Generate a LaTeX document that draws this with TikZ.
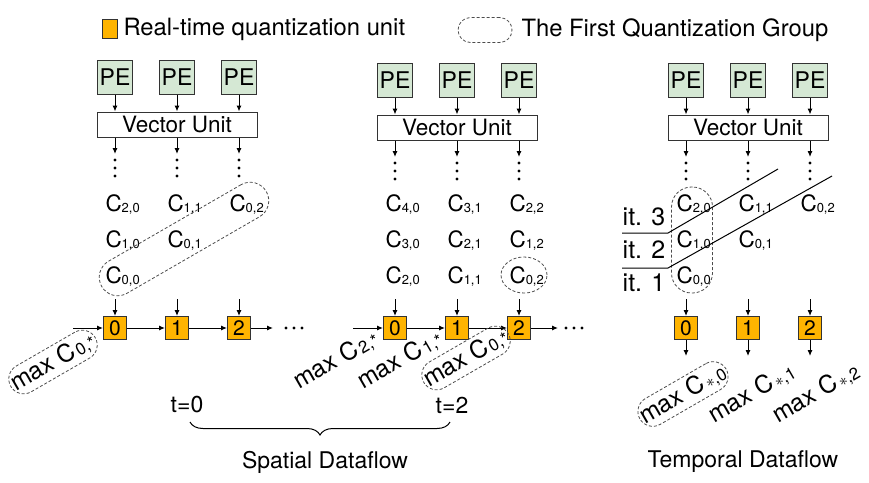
\documentclass[tikz,border=0pt]{standalone}
\usepackage{fontspec}
\setmainfont{TeX Gyre Heros}
\usepackage{xcolor}
\usepackage{tikz}
\usetikzlibrary{shapes.geometric, decorations.pathreplacing, arrows.meta, positioning}
\definecolor{peGreen}{HTML}{D5E8D4}
\definecolor{quOrange}{HTML}{FFB400}
\newcommand{\csub}[1]{\raisebox{-1.5pt}{\fontsize{13}{13}\selectfont #1}}
\newcommand{\msub}[1]{\kern2pt\raisebox{-1pt}{\fontsize{17}{17}\selectfont #1}}

\begin{document}
\begin{tikzpicture}[x=1pt, y=-1pt, >={Latex[length=6pt, width=5pt]}, line width=1pt,
    pe/.style={draw=black!80, fill=peGreen, minimum width=35, minimum height=34, inner sep=0pt, font=\fontsize{23}{23}\selectfont},
    vu/.style={draw=black!80, fill=white, minimum width=160, minimum height=25, inner sep=0pt, font=\fontsize{22.5}{22.5}\selectfont},
    qu/.style={draw=black!80, fill=quOrange, minimum width=23, minimum height=23, inner sep=0pt, font=\fontsize{21}{21}\selectfont},
    cval/.style={anchor=base west, inner sep=0pt, font=\fontsize{22.5}{22.5}\selectfont},
    maxval/.style={rotate=30, inner sep=2pt, font=\fontsize{24.5}{24.5}\selectfont},
    group/.style={draw=black!70, dash pattern=on 3pt off 2pt, line width=0.8pt, inner sep=0pt},
    maxgrp/.style={group, inner xsep=2pt, inner ysep=4pt, rounded corners=15pt},
    lbl/.style={anchor=west, inner sep=0pt, font=\fontsize{23.8}{23.8}\selectfont},
    tlbl/.style={inner sep=0pt, font=\fontsize{23}{23}\selectfont},
    itlbl/.style={inner sep=0pt, font=\fontsize{25}{25}\selectfont}]

    \useasboundingbox (0,0) rectangle (869,482);

    % Legend
    \node[qu, minimum width=15, minimum height=19] (legq) at (110,29) {};
    \node[lbl] (legqt) at (123,29) {Real-time quantization unit};
    \node[group, minimum width=54, minimum height=25, rounded corners=12.5pt] (legg) at (485,30) {};
    \node[lbl] (leggt) at (521,30) {The First Quantization Group};

    % PEs, vector units and quantization units
    \foreach \pn/\xo/\yo in {1/115/0, 2/395/3, 3/686/3} {
        \node[vu] (vu\pn) at (\xo+62, 124.5+\yo) {Vector Unit};
        \foreach \i in {0,1,2} {
            \node[pe] (pe\pn\i) at (\xo+62*\i, 77+\yo) {PE};
            \coordinate (dt\pn\i) at (\xo+62*\i, 154+\yo);
            \draw[->] (pe\pn\i) -- (pe\pn\i |- vu\pn.north);
            \draw[->] (pe\pn\i |- vu\pn.south) -- (dt\pn\i);
            \foreach \d in {6,14,22} \fill (dt\pn\i) ++(0,\d) circle (1.6);
            \node[qu] (q\pn\i) at (\xo+62*\i, 328) {\i};
            \coordinate (qin\pn\i) at (\xo+62*\i, 299);
            \draw[->] (qin\pn\i) -- (q\pn\i);
        }
    }

    % C values (spatial t=0 and temporal)
    \foreach \pn/\xo in {1/115, 3/686}
        \foreach \i/\j/\a/\b in {0/0/2/0, 1/0/1/1, 2/0/0/2, 0/1/1/0, 1/1/0/1, 0/2/0/0}
            \node[cval] (c\pn\i\j) at (\xo+62*\i-10, 211+36*\j) {C\csub{\a,\b}};
    % C values (spatial t=2)
    \foreach \i/\j/\a/\b in {0/0/4/0, 1/0/3/1, 2/0/2/2, 0/1/3/0, 1/1/2/1, 2/1/1/2, 0/2/2/0, 1/2/1/1, 2/2/0/2}
        \node[cval] (c2\i\j) at (395+62*\i-10, 211+36*\j) {C\csub{\a,\b}};

    % First quantization groups
    \node[group, rotate=30, minimum width=190, minimum height=37, rounded corners=18.5pt] (grp1) at (184,239) {};
    \node[group, ellipse, minimum width=46, minimum height=36] (grp2) at (524,275) {};
    \node[group, minimum width=41, minimum height=106, rounded corners=20pt] (grp3) at (692,240) {};

    % Spatial chains
    \coordinate (in1) at (73,328);
    \coordinate (out1) at (273,328);
    \coordinate (in2) at (353,328);
    \coordinate (out2) at (558,328);
    \foreach \pn in {1,2} {
        \draw[->] (in\pn) -- (q\pn0);
        \draw[->] (q\pn0) -- (q\pn1);
        \draw[->] (q\pn1) -- (q\pn2);
        \draw[->] (q\pn2) -- (out\pn);
    }
    \foreach \x in {286,294,302,566,574,582} \fill (\x,328) circle (1.6);

    % Temporal outputs
    \foreach \i in {0,1,2} {
        \coordinate (qout\i) at (686+62*\i, 356);
        \draw[->] (q3\i) -- (qout\i);
    }

    % Iterations
    \coordinate (ita) at (622,233);
    \coordinate (itb) at (668,233);
    \coordinate (itc) at (778,169);
    \coordinate (itd) at (622,268);
    \coordinate (ite) at (668,268);
    \coordinate (itf) at (832,176);
    \draw (ita) -- (itb) -- (itc);
    \draw (itd) -- (ite) -- (itf);
    \node[itlbl] (it3) at (644,217) {it. 3};
    \node[itlbl] (it2) at (644,250) {it. 2};
    \node[itlbl] (it1) at (644,283) {it. 1};

    % Max values
    \node[maxval, maxgrp] (m10) at (53,362) {max C\msub{0,*}};
    \node[maxval] (m22) at (336,360) {max C\msub{2,*}};
    \node[maxval] (m21) at (400,360) {max C\msub{1,*}};
    \node[maxval, maxgrp] (m20) at (466,358) {max C\msub{0,*}};
    \node[maxval, maxgrp] (m30) at (683,394) {max C\msub{$*$,0}};
    \node[maxval] (m31) at (752,393) {max C\msub{$*$,1}};
    \node[maxval] (m32) at (816,393) {max C\msub{$*$,2}};

    % Time steps and captions
    \node[tlbl] (t0) at (187,405) {t=0};
    \node[tlbl] (t2) at (452,405) {t=2};
    \coordinate (brl) at (190,422);
    \coordinate (brr) at (450,422);
    \draw[decorate, decoration={brace, mirror, amplitude=13pt}] (brl) -- (brr);
    \node[tlbl] (spat) at (325,462) {Spatial Dataflow};
    \node[tlbl] (temp) at (743,462) {Temporal Dataflow};
\end{tikzpicture}
\end{document}
